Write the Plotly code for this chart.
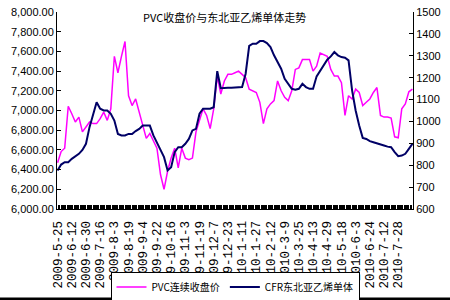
import plotly.graph_objects as go

# trading-day index (every 3rd trading day sampled)
day_index = list(range(0, 301, 3))

pvc_close = [6470, 6583, 6617, 7043, 6967, 6883, 6933, 6783, 6833, 6883,
             6867, 6867, 6917, 6983, 6900, 7017, 7550, 7383, 7550, 7700,
             7150, 7050, 7117, 6983, 6850, 6717, 6767, 6700, 6617, 6350,
             6200, 6383, 6517, 6617, 6417, 6617, 6517, 6500, 6517, 6783,
             6900, 7017, 6950, 6817, 7017, 7350, 7167, 7300, 7367, 7367,
             7383, 7400, 7367, 7333, 7217, 7200, 7183, 7083, 6867, 7017,
             7067, 7100, 7300, 7200, 7133, 7100, 7200, 7417, 7433, 7517,
             7517, 7517, 7400, 7450, 7583, 7567, 7550, 7417, 7350, 7350,
             7283, 6950, 7150, 7117, 7217, 7183, 7050, 7083, 7117, 7183,
             7233, 6950, 6933, 6933, 6923, 6733, 6723, 7017, 7067, 7190,
             7217]

cfr_vcm = [776, 803, 814, 814, 829, 840, 852, 870, 898, 974,
           1035, 1088, 1058, 1050, 1050, 1035, 1004, 943, 936, 936,
           943, 943, 956, 966, 981, 981, 981, 936, 901, 867,
           837, 776, 791, 860, 882, 882, 898, 920, 959, 966,
           1035, 1058, 1058, 1058, 1065, 1230, 1152, 1154, 1154, 1154,
           1154, 1157, 1157, 1218, 1345, 1355, 1355, 1367, 1367, 1358,
           1340, 1302, 1271, 1241, 1195, 1169, 1149, 1145, 1149, 1172,
           1157, 1149, 1149, 1206, 1233, 1256, 1282, 1297, 1317, 1302,
           1294, 1291, 1279, 1142, 1050, 981, 925, 920, 910, 905,
           901, 895, 890, 885, 882, 860, 841, 844, 852, 875,
           898]

tick_labels = ["2009-5-25", "2009-6-12", "2009-6-30", "2009-7-16", "2009-8-3",
               "2009-8-19", "2009-9-4", "2009-9-22", "2009-10-16", "2009-11-3",
               "2009-11-19", "2009-12-7", "2009-12-23", "2010-1-11", "2010-1-27",
               "2010-2-12", "2010-3-9", "2010-3-25", "2010-4-13", "2010-4-29",
               "2010-5-18", "2010-6-3", "2010-6-24", "2010-7-12", "2010-7-28"]
tick_positions = [12 * k for k in range(len(tick_labels))]

title_text = "PVC收盘价与东北亚乙烯单体走势"
name_pvc = "PVC连续收盘价"
name_cfr = "CFR东北亚乙烯单体"

CJK = "Noto Sans CJK SC"

fig = go.Figure()
fig.add_trace(go.Scatter(x=day_index, y=pvc_close, name=name_pvc, mode="lines",
                         line=dict(color="#FF00FF", width=1.5), yaxis="y"))
fig.add_trace(go.Scatter(x=day_index, y=cfr_vcm, name=name_cfr, mode="lines",
                         line=dict(color="#000066", width=2), yaxis="y2"))

fig.update_layout(
    width=450, height=300,
    margin=dict(l=57, r=37, t=12, b=91, autoexpand=False),
    paper_bgcolor="white", plot_bgcolor="white",
    font=dict(family="Liberation Sans", size=11, color="black"),
    showlegend=True,
    legend=dict(orientation="h", x=0.5, xanchor="center", y=-0.475, yanchor="bottom",
                bgcolor="white", bordercolor="black", borderwidth=1,
                font=dict(family=CJK, size=10), itemwidth=30,
                tracegroupgap=0),
    xaxis=dict(range=[-0.5, 300.5], tickmode="array", tickvals=tick_positions,
               ticktext=tick_labels, tickangle=-90, showgrid=False, zeroline=False,
               showline=True, linecolor="black", linewidth=1,
               ticks="inside", ticklen=4, tickcolor="black", ticklabelstandoff=6,
               tickfont=dict(family="Liberation Mono", size=12.5),
               minor=dict(tickmode="linear", tick0=0, dtick=1, ticks="inside",
                          ticklen=4, tickcolor="black", showgrid=False)),
    yaxis=dict(range=[6000, 8000], dtick=200, tickformat=",.2f", showgrid=False,
               zeroline=False, showline=True, linecolor="black", linewidth=1,
               ticks="inside", ticklen=4, tickcolor="black"),
    yaxis2=dict(range=[600, 1500], dtick=100, overlaying="y", side="right",
                showgrid=False, zeroline=False, showline=True, linecolor="black",
                linewidth=1, ticks="inside", ticklen=4, tickcolor="black"),
    annotations=[dict(text=title_text, xref="paper", yref="paper", x=0.47, y=0.975,
                      xanchor="center", yanchor="middle", showarrow=False,
                      font=dict(family=CJK, size=11, color="black"))],
    shapes=[dict(type="line", xref="paper", yref="paper", x0=-0.2, x1=1.2,
                 y0=-0.455, y1=-0.455, line=dict(color="black", width=2.5))],
)

fig.write_html("out.html")
